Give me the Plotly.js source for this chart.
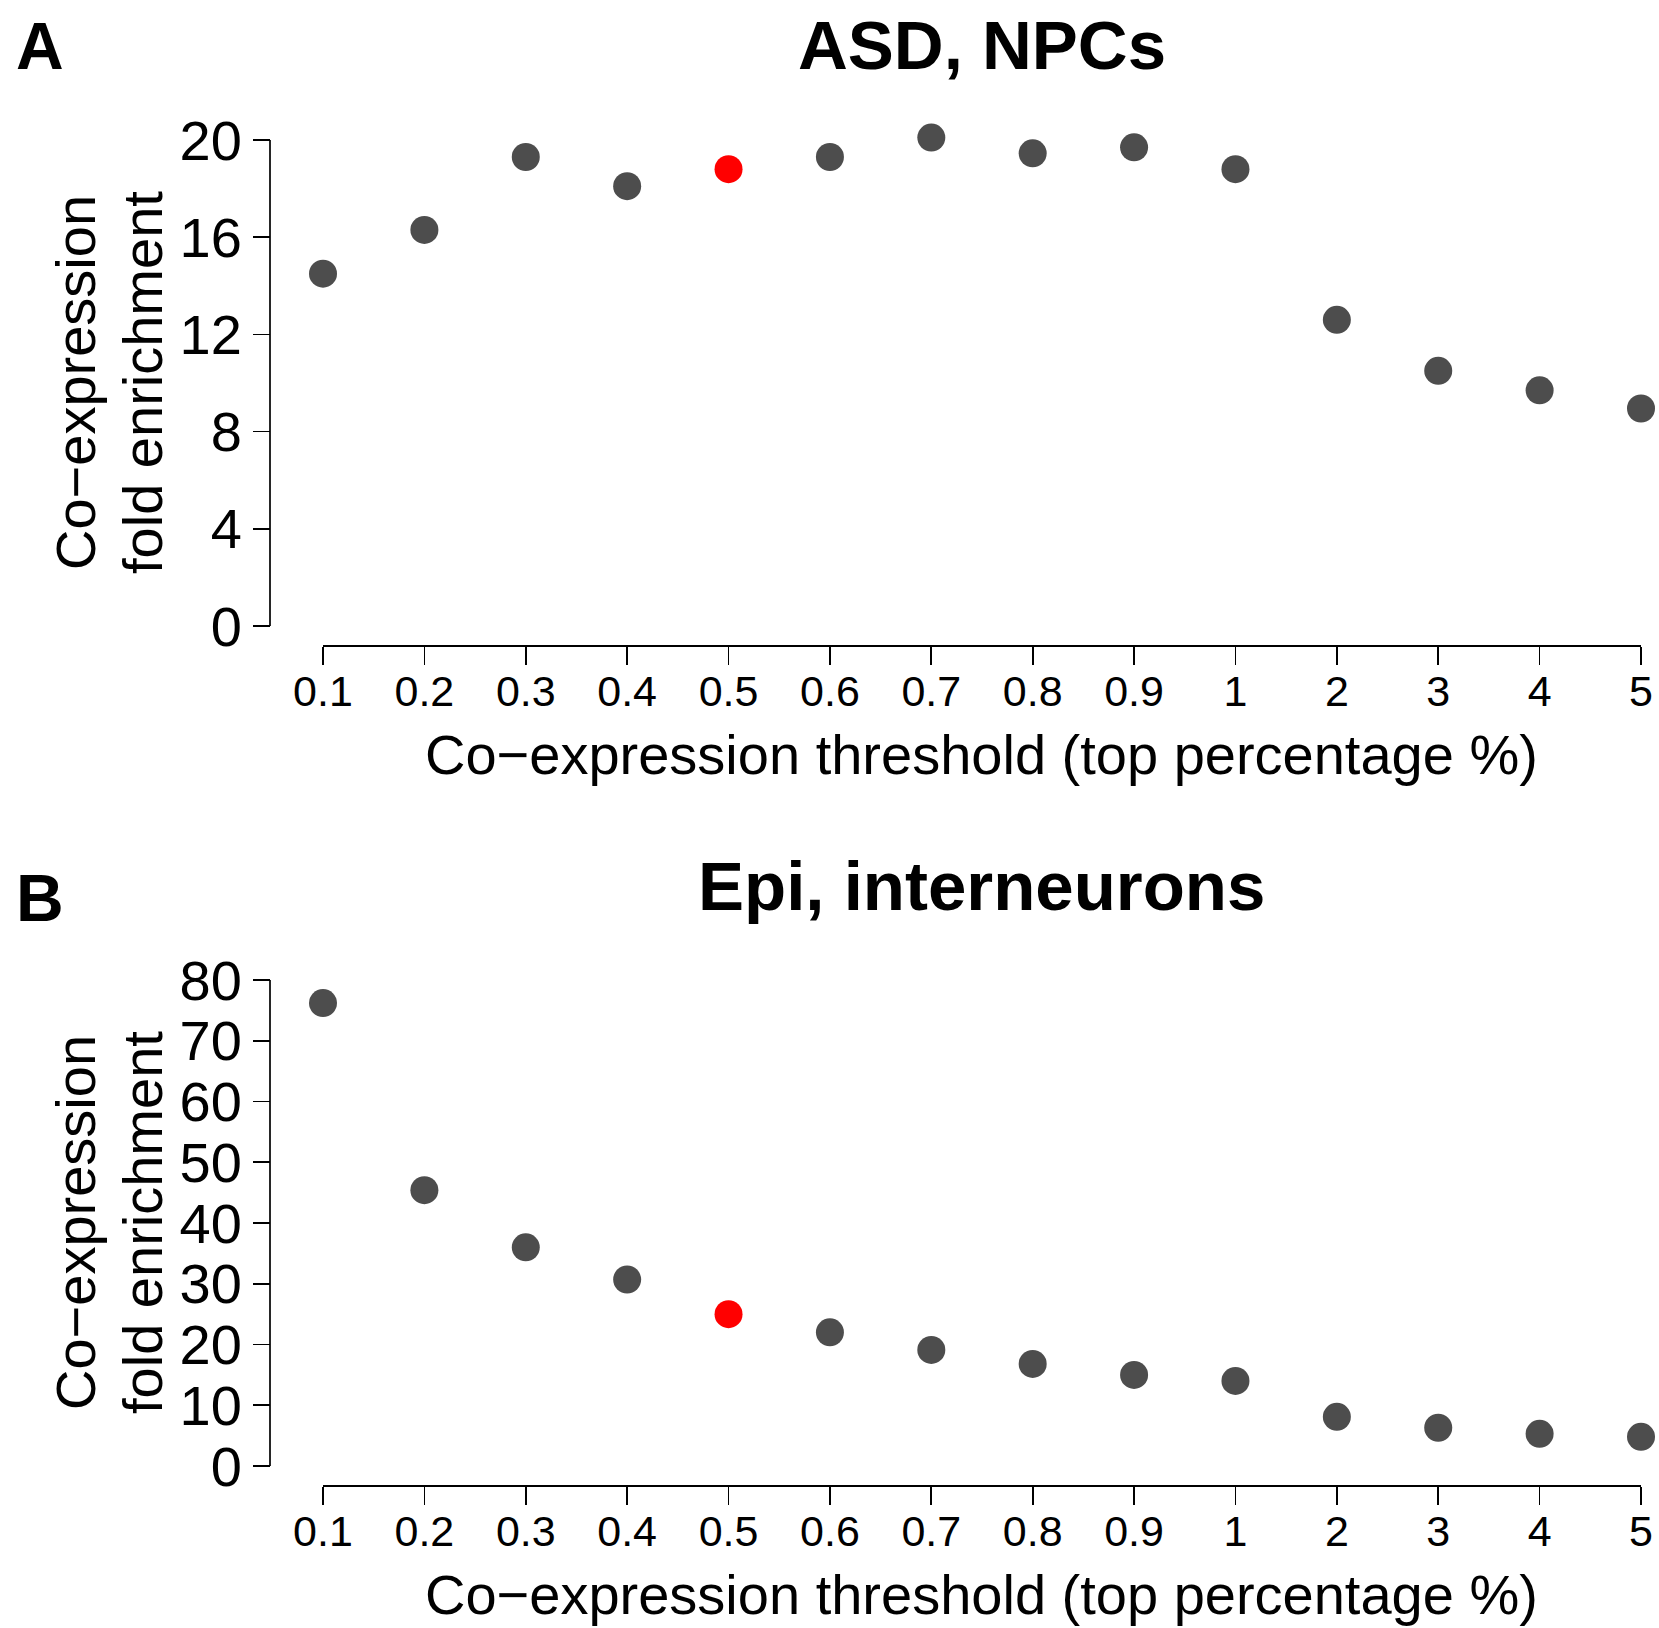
<!DOCTYPE html>
<html>
<head>
<meta charset="utf-8">
<script src="https://cdn.plot.ly/plotly-3.0.1.min.js"></script>
<style>html,body{margin:0;padding:0;background:#fff;}#chart{width:1659px;height:1628px;}</style>
</head>
<body>
<div id="chart"></div>
<script>
// ---- data ----
const thresholds = ['0.1','0.2','0.3','0.4','0.5','0.6','0.7','0.8','0.9','1','2','3','4','5'];
const asdNpcs = [14.5, 16.3, 19.3, 18.1, 18.8, 19.3, 20.1, 19.45, 19.7, 18.8, 12.6, 10.5, 9.7, 8.95];
const epiInterneurons = [76.2, 45.4, 36.0, 30.7, 25.0, 22.0, 19.1, 16.8, 15.0, 14.0, 8.1, 6.3, 5.3, 4.8];
const highlightThreshold = '0.5';
const panelTitles = ['ASD, NPCs', 'Epi, interneurons'];
const panelLetters = ['A', 'B'];
const yTicksA = [0, 4, 8, 12, 16, 20];
const yTicksB = [0, 10, 20, 30, 40, 50, 60, 70, 80];
const xTitle = 'Co\u2212expression threshold (top percentage %)';
const yTitleLines = ['Co\u2212expression', 'fold enrichment'];

// ---- styling ----
const W = 1659, H = 1628;
const FONT = 'Liberation Sans, Arial, Helvetica, sans-serif';
const GRAY = '#4d4d4d', RED = '#ff0000';
const colors = thresholds.map(t => t === highlightThreshold ? RED : GRAY);
const px = v => v / W;          // x pixel -> paper
const py = v => 1 - v / H;      // y pixel -> paper
const AXIS_X_PX = 270;

function xAxis(posPx) {
  return {
    type: 'category', range: [0, thresholds.length - 1],
    domain: [px(323), px(1641)], anchor: 'free', position: py(posPx),
    showline: true, linecolor: '#000', linewidth: 1.7,
    ticks: 'outside', ticklen: 18, tickwidth: 1.7, tickcolor: '#000',
    ticklabelstandoff: -10,
    showgrid: false, zeroline: false, fixedrange: true,
    tickfont: {family: FONT, size: 43, color: '#000'}
  };
}
// top/bottom: pixel rows of the first and last tick; headroom lets points sit just above the top tick
function yAxis(top, bottom, ticks, headroom) {
  const t0 = ticks[0], t1 = ticks[ticks.length - 1];
  const ppu = (bottom - top) / (t1 - t0);
  const rTop = t1 + headroom;
  return {
    range: [t0, rTop],
    tickvals: ticks, ticktext: ticks.map(String),
    domain: [py(bottom), py(bottom - (rTop - t0) * ppu)], anchor: 'free', position: px(AXIS_X_PX),
    showline: false,
    ticks: 'outside', ticklen: 17, tickwidth: 1.7, tickcolor: '#000',
    showgrid: false, zeroline: false, fixedrange: true,
    tickfont: {family: FONT, size: 56, color: '#000'}
  };
}
function yAxisLine(yref, ticks) {
  return {type: 'line', xref: 'paper', yref: yref, x0: px(AXIS_X_PX), x1: px(AXIS_X_PX),
    y0: ticks[0], y1: ticks[ticks.length - 1], line: {color: '#000', width: 1.7}, layer: 'above'};
}

const traces = [
  {x: thresholds, y: asdNpcs, xaxis: 'x', yaxis: 'y', type: 'scatter', mode: 'markers',
   cliponaxis: false, marker: {size: 28, color: colors}, hoverinfo: 'x+y'},
  {x: thresholds, y: epiInterneurons, xaxis: 'x2', yaxis: 'y2', type: 'scatter', mode: 'markers',
   cliponaxis: false, marker: {size: 28, color: colors}, hoverinfo: 'x+y'}
];

const ann = [];
const offsets = [0, 840];
offsets.forEach((off, i) => {
  ann.push({text: '<b>' + panelTitles[i] + '</b>', xref: 'paper', yref: 'paper',
    x: px(982), y: py(46 + off), xanchor: 'center', yanchor: 'middle', showarrow: false,
    font: {family: FONT, size: 69, color: '#000'}});
  ann.push({text: '<b>' + panelLetters[i] + '</b>', xref: 'paper', yref: 'paper',
    x: px(14), y: py((i === 0 ? 46 : 898)), xanchor: 'left', yanchor: 'middle', showarrow: false,
    font: {family: FONT, size: 66, color: '#000'}});
  ann.push({text: xTitle, xref: 'paper', yref: 'paper',
    x: px(982), y: py(754 + off), xanchor: 'center', yanchor: 'middle', showarrow: false,
    font: {family: FONT, size: 56, color: '#000'}});
  ann.push({text: yTitleLines[0], xref: 'paper', yref: 'paper', textangle: -90,
    x: px(75), y: py(383 + off), xanchor: 'center', yanchor: 'middle', showarrow: false,
    font: {family: FONT, size: 56, color: '#000'}});
  ann.push({text: yTitleLines[1], xref: 'paper', yref: 'paper', textangle: -90,
    x: px(142), y: py(383 + off), xanchor: 'center', yanchor: 'middle', showarrow: false,
    font: {family: FONT, size: 56, color: '#000'}});
});

const layout = {
  width: W, height: H, margin: {l: 0, r: 0, t: 0, b: 0},
  paper_bgcolor: '#fff', plot_bgcolor: '#fff', showlegend: false,
  font: {family: FONT, color: '#000'},
  xaxis: xAxis(645), yaxis: yAxis(140, 626, yTicksA, 1),
  xaxis2: xAxis(1485), yaxis2: yAxis(980, 1466, yTicksB, 4),
  shapes: [yAxisLine('y', yTicksA), yAxisLine('y2', yTicksB)],
  annotations: ann
};

Plotly.newPlot('chart', traces, layout, {displayModeBar: false, staticPlot: true});
</script>
</body>
</html>
